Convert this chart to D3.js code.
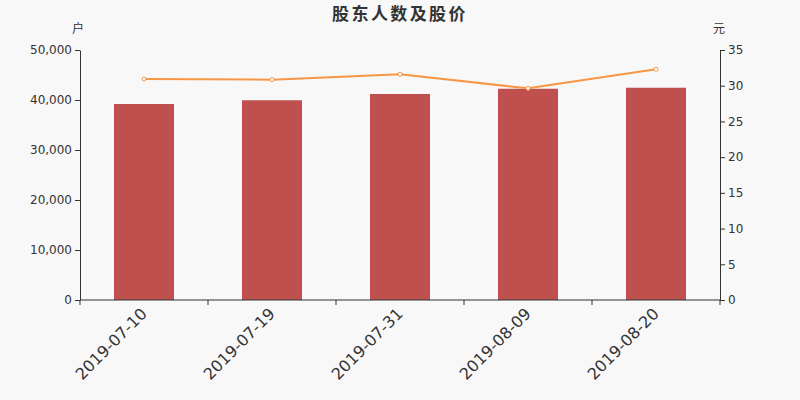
<!DOCTYPE html>
<html><head><meta charset="utf-8">
<script src="https://cdn.jsdelivr.net/npm/d3@7"></script>
<style>html,body{margin:0;padding:0;background:#f8f8f8;}</style>
</head><body>
<svg id="c" width="800" height="400"></svg>
<script>
const categories = ["2019-07-10","2019-07-19","2019-07-31","2019-08-09","2019-08-20"];
const holders = [39200, 39950, 41200, 42250, 42450];
const prices = [30.94, 30.85, 31.6, 29.63, 32.3];
const leftTicks = [0,10000,20000,30000,40000,50000];
const rightTicks = [0,5,10,15,20,25,30,35];

const svg = d3.select("#c");
const W=800,H=400, L=80, R=720, T=50, B=300;
svg.append("rect").attr("width",W).attr("height",H).attr("fill","#f8f8f8");
const font = "DejaVu Sans, sans-serif";
const cjk = "'Noto Sans CJK SC', sans-serif";

const x = d3.scaleBand().domain(categories).range([L,R]).padding(0);
const yL = d3.scaleLinear().domain([0,50000]).range([B,T]);
const yR = d3.scaleLinear().domain([0,35]).range([B,T]);

svg.append("text").attr("x",400).attr("y",20).attr("text-anchor","middle")
  .attr("font-family",cjk).attr("font-weight","bold").attr("font-size",17)
  .attr("letter-spacing",2.4).attr("fill","#333").text("股东人数及股价");
svg.append("text").attr("x",78).attr("y",33).attr("text-anchor","middle")
  .attr("font-family",cjk).attr("font-size",12).attr("fill","#333").text("户");
svg.append("text").attr("x",719).attr("y",33).attr("text-anchor","middle")
  .attr("font-family",cjk).attr("font-size",12).attr("fill","#333").text("元");

// bars
const bw = 60;
svg.append("g").selectAll("rect").data(categories).join("rect")
  .attr("x",d=>x(d)+x.bandwidth()/2-bw/2).attr("width",bw)
  .attr("y",(d,i)=>yL(holders[i])).attr("height",(d,i)=>B-yL(holders[i]))
  .attr("fill","#c0504d");

// axes
const gl = svg.append("g").attr("transform",`translate(${L},0)`)
  .call(d3.axisLeft(yL).tickValues(leftTicks).tickFormat(d3.format(",")).tickSize(5).tickSizeOuter(0));
const gr = svg.append("g").attr("transform",`translate(${R},0)`)
  .call(d3.axisRight(yR).tickValues(rightTicks).tickSize(5).tickSizeOuter(0));
const xTickPos = d3.range(categories.length+1).map(i=>L+i*x.bandwidth());
const gx = svg.append("g").attr("transform",`translate(0,${B})`);
gx.append("line").attr("x1",L).attr("x2",R).attr("y1",0).attr("y2",0).attr("stroke","#333");
gx.selectAll("line.t").data(xTickPos).join("line").attr("class","t")
  .attr("x1",d=>d).attr("x2",d=>d).attr("y1",0).attr("y2",5).attr("stroke","#333");
gx.selectAll("text").data(categories).join("text")
  .attr("transform",d=>`translate(${x(d)+x.bandwidth()/2-4},${7}) rotate(-45)`)
  .attr("text-anchor","end").attr("dy","0.7em")
  .attr("font-family",font).attr("font-size",16).attr("fill","#333").text(d=>d);

[gl,gr].forEach(g=>{
  g.select(".domain").attr("stroke","#333");
  g.selectAll(".tick line").attr("stroke","#333");
  g.selectAll(".tick text").attr("font-family",font).attr("font-size",12).attr("fill","#333");
});
gl.selectAll(".tick text").attr("x",-8);
gr.selectAll(".tick text").attr("x",8);

// line
const line = d3.line().x((d,i)=>x(categories[i])+x.bandwidth()/2).y(d=>yR(d));
svg.append("path").datum(prices).attr("d",line).attr("fill","none")
  .attr("stroke","#f79646").attr("stroke-width",2);
svg.append("g").selectAll("circle").data(prices).join("circle")
  .attr("cx",(d,i)=>x(categories[i])+x.bandwidth()/2).attr("cy",d=>yR(d)).attr("r",2)
  .attr("fill","#fff").attr("stroke","#f79646").attr("stroke-width",1);
</script>
</body></html>
